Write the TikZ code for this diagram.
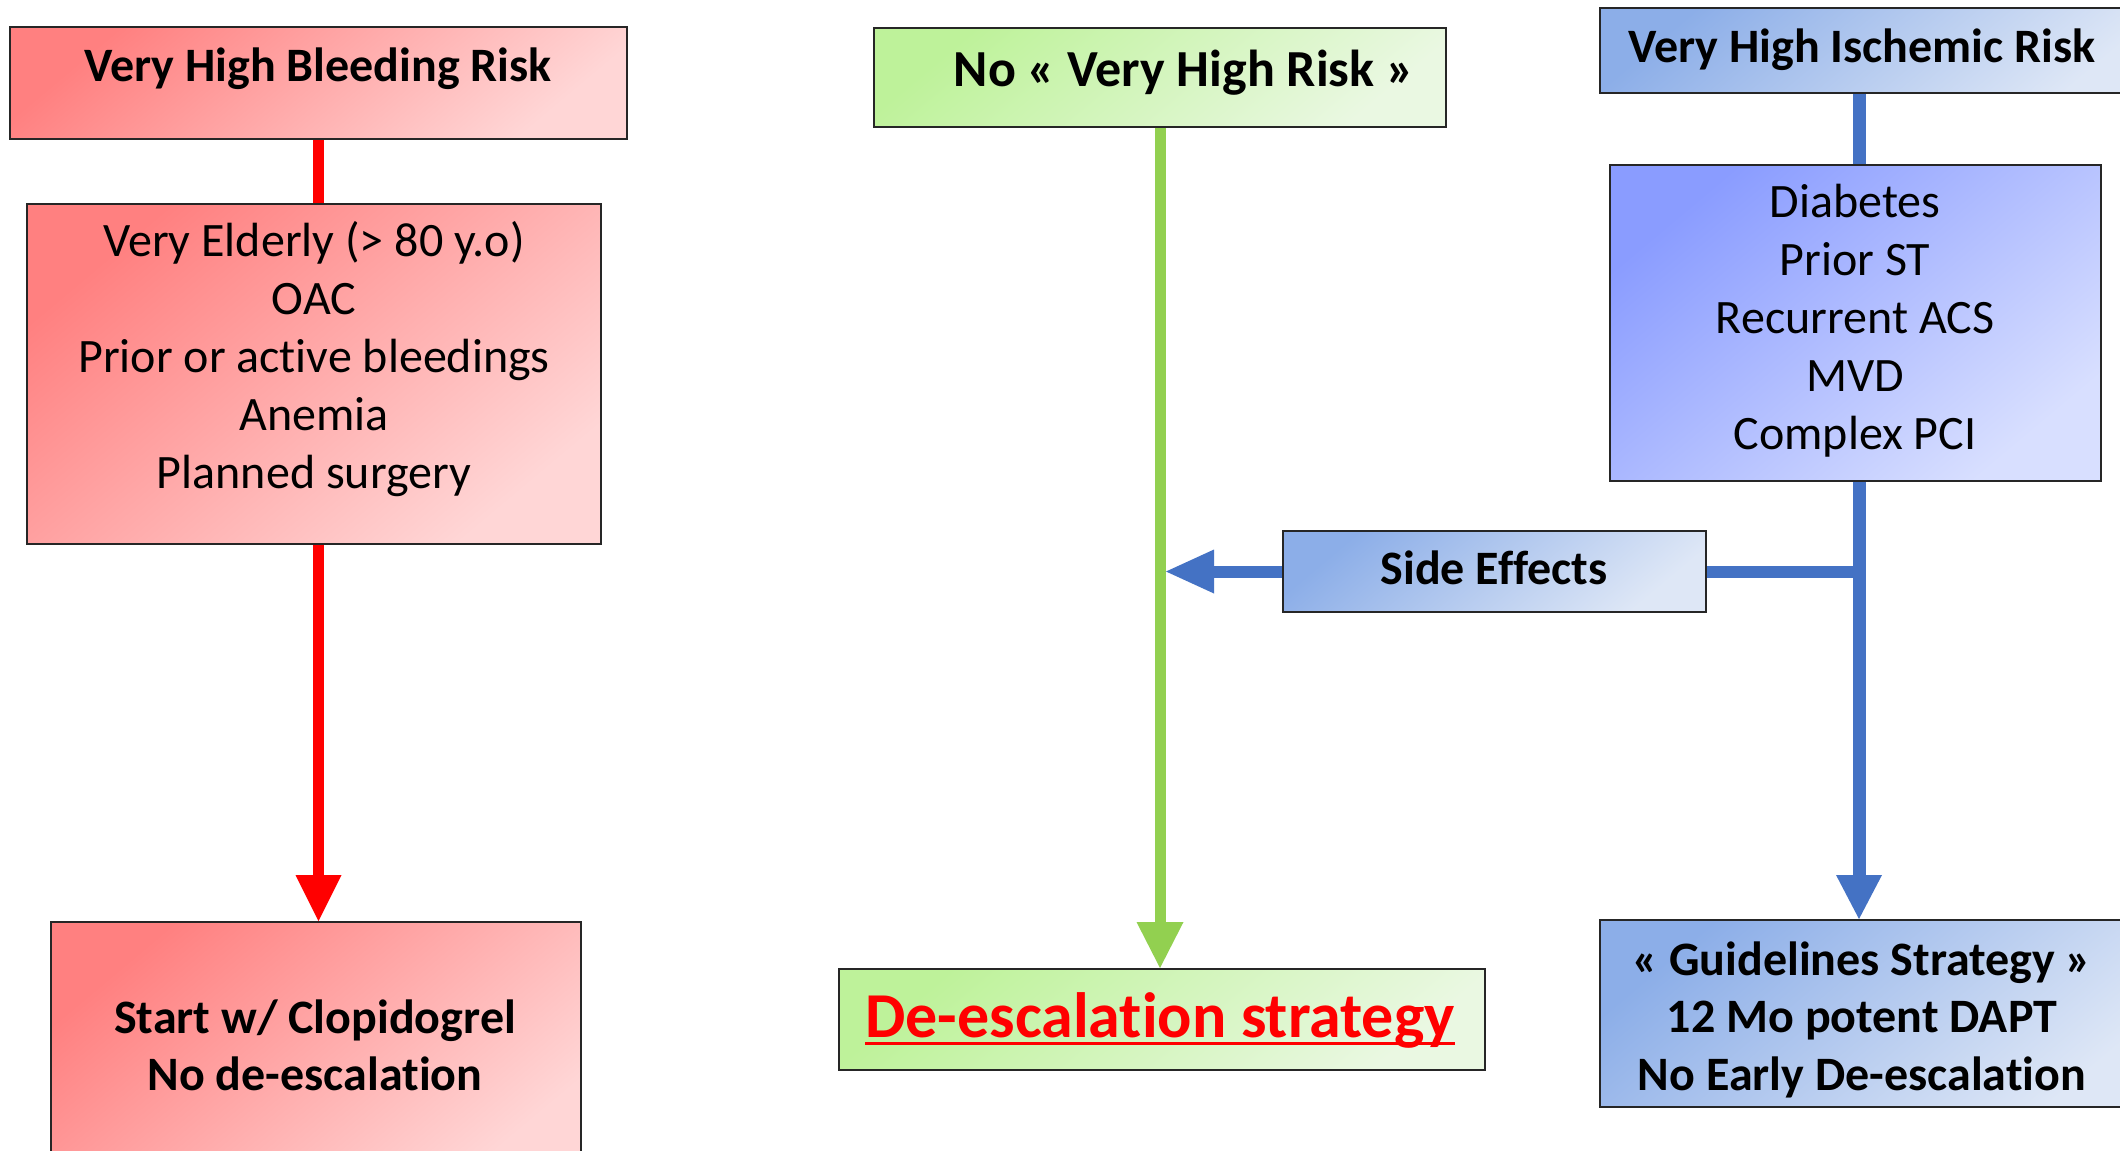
\documentclass[tikz,border=0pt]{standalone}
\usepackage{fontspec}
\setmainfont[Ligatures=NoCommon]{Carlito}
\usetikzlibrary{arrows.meta}
\definecolor{redA}{HTML}{FF8080}
\definecolor{redB}{HTML}{FFD6D6}
\definecolor{grnA}{HTML}{BEF29A}
\definecolor{grnB}{HTML}{EAF8E2}
\definecolor{bluA}{HTML}{8CAEE8}
\definecolor{bluB}{HTML}{DEE7F6}
\definecolor{purA}{HTML}{8A9CFF}
\definecolor{purB}{HTML}{D8DFFF}
\definecolor{lnred}{HTML}{FF0000}
\definecolor{lngrn}{HTML}{92D050}
\definecolor{lnblu}{HTML}{4472C4}
\newcommand\myuline[1]{\setbox0\hbox{#1}\rlap{\rule[-8pt]{\wd0}{3.5pt}}\box0}
\tikzset{
  box/.style={draw=black!85, line width=2pt, inner sep=0pt, anchor=north west},
  redbox/.style={box, top color=redA, bottom color=redB, shading angle=40},
  grnbox/.style={box, top color=grnA, bottom color=grnB, shading angle=40},
  blubox/.style={box, top color=bluA, bottom color=bluB, shading angle=40},
  purbox/.style={box, top color=purA, bottom color=purB, shading angle=40},
  txt/.style={inner sep=0pt, anchor=base, align=center, text=black},
  redln/.style={draw=lnred, line width=11pt},
  grnln/.style={draw=lngrn, line width=11pt},
  bluln/.style={draw=lnblu, line width=13pt},
}
\begin{document}
\begin{tikzpicture}[x=1pt,y=-1pt]
\useasboundingbox (0,0) rectangle (2120,1151);
\clip (0,0) rectangle (2120,1151);
\fill[white] (0,0) rectangle (2120,1151);
% boxes
\node[redbox, minimum width=617pt, minimum height=112pt] (vhbr) at (9,26) {};
\node[redbox, minimum width=574pt, minimum height=340pt] (bleedlist) at (26,203) {};
\node[redbox, minimum width=530pt, minimum height=260pt] (clopi) at (50,921) {};
\node[grnbox, minimum width=572pt, minimum height=99pt] (novhr) at (873,27) {};
\node[grnbox, minimum width=646pt, minimum height=101pt] (deesc) at (838,968) {};
\node[blubox, minimum width=560pt, minimum height=85pt] (vhir) at (1599,7) {};
\node[purbox, minimum width=491pt, minimum height=316pt] (ischlist) at (1609,164) {};
\node[blubox, minimum width=423pt, minimum height=81pt] (side) at (1282,530) {};
\node[blubox, minimum width=560pt, minimum height=187pt] (guide) at (1599,919) {};
% texts
\node[txt, font=\fontsize{48}{58}\selectfont\bfseries] (vhbrT) at (318,81) {Very High Bleeding Risk};
\node[txt, font=\fontsize{48}{58}\selectfont] (bleedT) at (314,488) {Very Elderly (> 80 y.o)\\OAC\\Prior or active bleedings\\Anemia\\Planned surgery};
\node[txt, font=\fontsize{48}{57}\selectfont\bfseries] (clopiT) at (315,1090) {Start w/ Clopidogrel\\No de-escalation};
\node[txt, font=\fontsize{52}{58}\selectfont\bfseries] (novhrT) at (1184,86) {No « Very High Risk »};
\node[txt, font=\fontsize{64}{70}\selectfont\bfseries, text=lnred] (deescT) at (1160,1037) {\myuline{De-escalation strategy}};
\node[txt, font=\fontsize{48}{58}\selectfont\bfseries] (vhirT) at (1862,62) {Very High Ischemic Risk};
\node[txt, font=\fontsize{48}{58}\selectfont] (ischT) at (1855,449) {Diabetes\\Prior ST\\Recurrent ACS\\MVD\\Complex PCI};
\node[txt, font=\fontsize{48}{58}\selectfont\bfseries] (sideT) at (1494,584) {Side Effects};
\node[txt, font=\fontsize{48}{57.5}\selectfont\bfseries] (guideT) at (1862,1090) {« Guidelines Strategy »\\12 Mo potent DAPT\\No Early De-escalation};
% connectors
\coordinate (bx) at (1859,0);
\coordinate (gx) at (1166,0);
\draw[redln] (vhbr.south) -- (vhbr.south |- bleedlist.north);
\draw[redln, -{Triangle[width=46pt,length=46pt,line width=0pt]}] (vhbr.south |- bleedlist.south) -- (vhbr.south |- clopi.north);
\draw[grnln, -{Triangle[width=47pt,length=46pt,line width=0pt]}] (novhr.south) -- (novhr.south |- deesc.north);
\draw[bluln] (vhir.south -| bx) -- (ischlist.north -| bx);
\draw[bluln, -{Triangle[width=46pt,length=44pt,line width=0pt]}] (ischlist.south -| bx) -- (guide.north -| bx);
\draw[draw=lnblu, line width=12pt] (side.east) -- (side.east -| bx);
\draw[draw=lnblu, line width=12pt, -{Triangle[width=44pt,length=48pt,line width=0pt]}] (side.west) -- (side.west -| gx);
\end{tikzpicture}
\end{document}
